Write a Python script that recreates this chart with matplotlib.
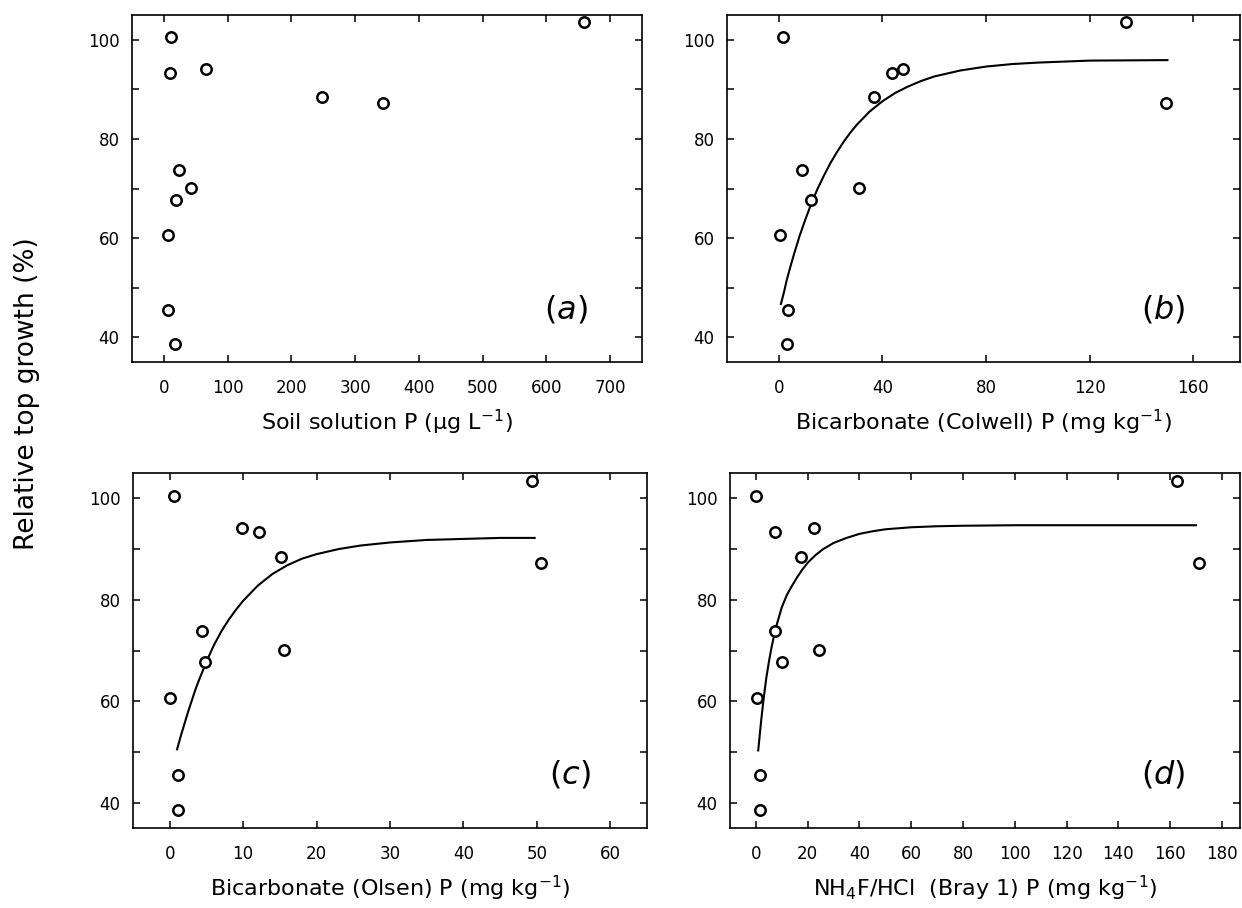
"""Relative top growth vs four soil P tests, 2x2 scan-style panels."""

import matplotlib
matplotlib.use("Agg")
import matplotlib.pyplot as plt
from matplotlib.ticker import MultipleLocator

plt.rcParams["font.family"] = ["DejaVu Sans"]

# relative top growth (%) of the 12 plants, same order in every panel
GROWTH = [100.5, 103.5, 93.4, 94.2, 88.5, 87.2, 73.8, 70.1, 67.7, 60.6, 45.5, 38.6]

# P measured by each soil test, same plant order
SOLN_P = [11, 659, 10, 66, 248, 344, 24, 43, 19, 6, 7, 18]
COLWELL_P = [1.8, 134, 43.8, 48, 36.9, 149.4, 9.1, 30.9, 12.3, 0.5, 3.6, 3.0]
OLSEN_P = [0.6, 49.4, 12.2, 9.8, 15.1, 50.5, 4.4, 15.6, 4.75, 0.1, 1.1, 1.1]
BRAY_P = [0.0, 162.8, 7.5, 22.5, 17.3, 171.3, 7.2, 24.3, 9.9, 0.5, 1.7, 1.4]

# fitted response curves
COLWELL_CURVE_X = [0.8, 2, 3, 4.5, 6, 8, 10, 12.5, 15, 17.5, 20, 22.5, 25, 27.5, 30,
                   35, 40, 45, 50, 55, 60, 70, 80, 90, 100, 120, 150]
COLWELL_CURVE_Y = [46.7, 49.1, 51.4, 54.3, 57.0, 60.4, 63.4, 66.9, 70.0, 72.7,
                   75.2, 77.4, 79.4, 81.2, 82.8, 85.5, 87.6, 89.3, 90.6, 91.7,
                   92.6, 93.8, 94.6, 95.1, 95.4, 95.8, 95.9]
OLSEN_CURVE_X = [1.0, 1.5, 2, 2.5, 3, 3.5, 4, 5, 6, 7, 8, 9, 10, 12, 14, 16, 18, 20,
                 23, 26, 30, 35, 40, 45, 49.7]
OLSEN_CURVE_Y = [50.5, 53.1, 55.5, 57.9, 60.1, 62.3, 64.2, 67.8, 71.0, 73.7, 76.0,
                 78.0, 79.8, 82.8, 85.1, 86.8, 88.1, 89.0, 90.0, 90.7, 91.3,
                 91.8, 92.0, 92.2, 92.2]
BRAY_CURVE_X = [0.9, 1.5, 2, 2.5, 3, 4, 5, 6, 7, 8, 10, 12, 14, 16, 18, 20, 23, 26,
                30, 35, 40, 45, 50, 60, 70, 80, 100, 130, 170]
BRAY_CURVE_Y = [50.3, 53.4, 56.0, 58.3, 60.5, 64.5, 67.7, 70.5, 72.9, 75.0, 78.5,
                81.0, 82.8, 84.5, 86.0, 87.3, 88.8, 90.0, 91.2, 92.2, 93.0,
                93.5, 93.9, 94.3, 94.5, 94.6, 94.7, 94.7, 94.7]

XLABELS = [
    r"Soil solution P (µg L$^{-1}$)",
    r"Bicarbonate (Colwell) P (mg kg$^{-1}$)",
    r"Bicarbonate (Olsen) P (mg kg$^{-1}$)",
    r"NH$_4$F/HCl  (Bray 1) P (mg kg$^{-1}$)",
]
PANEL_TAGS = ["a", "b", "c", "d"]
Y_TICKS = [40, 60, 80, 100]

W, H = 1242, 908


def box(left, top, right, bottom):
    return [left / W, 1 - bottom / H, (right - left) / W, (bottom - top) / H]


panels = [
    dict(rect=box(132, 15, 642, 362), x=SOLN_P, xlim=(-50, 750), step=100,
         curve=None),
    dict(rect=box(727, 15, 1240, 362), x=COLWELL_P, xlim=(-20, 178), step=40,
         curve=(COLWELL_CURVE_X, COLWELL_CURVE_Y)),
    dict(rect=box(133, 473, 647, 828), x=OLSEN_P, xlim=(-5, 65), step=10,
         curve=(OLSEN_CURVE_X, OLSEN_CURVE_Y)),
    dict(rect=box(730, 473, 1240, 828), x=BRAY_P, xlim=(-10, 187), step=20,
         curve=(BRAY_CURVE_X, BRAY_CURVE_Y)),
]

fig = plt.figure(figsize=(W / 100, H / 100), dpi=100)
fig.patch.set_facecolor("white")

for p, xlabel, tag in zip(panels, XLABELS, PANEL_TAGS):
    ax = fig.add_axes(p["rect"])
    ax.plot(p["x"], GROWTH, linestyle="none", marker="o", markersize=7.5,
            markerfacecolor="white", markeredgecolor="black",
            markeredgewidth=1.8, zorder=3)
    if p["curve"] is not None:
        cx, cy = p["curve"]
        ax.plot(cx, cy, color="black", linewidth=1.5, zorder=2,
                solid_joinstyle="round")

    ax.set_xlim(*p["xlim"])
    ax.set_ylim(35, 105)
    ax.xaxis.set_major_locator(MultipleLocator(p["step"]))
    ax.set_yticks(Y_TICKS)
    ax.yaxis.set_minor_locator(MultipleLocator(10))
    ax.tick_params(which="both", direction="in", top=True, right=True,
                   length=5, width=1.1, color="black")
    ax.tick_params(axis="x", pad=12, labelsize=12)
    ax.tick_params(axis="y", pad=9, labelsize=12)
    for spine in ax.spines.values():
        spine.set_linewidth(1.2)

    ax.set_xlabel(xlabel, fontsize=16, labelpad=8)
    ax.text(0.85, 0.15, rf"$(\mathit{{{tag}}})$", transform=ax.transAxes,
            fontsize=23, ha="center", va="center")

fig.text(0.022, 0.567, "Relative top growth (%)", rotation=90, fontsize=19,
         ha="center", va="center")

fig.savefig("out.png", dpi=100, facecolor="white")
